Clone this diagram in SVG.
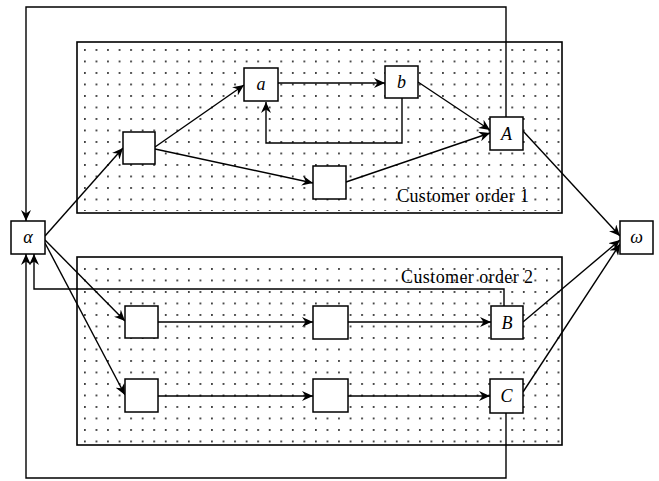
<svg xmlns="http://www.w3.org/2000/svg" width="659" height="481" viewBox="0 0 659 481">
<style>
.box{fill:#fff;stroke:#000;stroke-width:1.5}
.reg{stroke:#000;stroke-width:1.6}
.c{fill:none;stroke:#000;stroke-width:1.4}
.ca{fill:none;stroke:#000;stroke-width:1.4;marker-end:url(#ah)}
.lbl{font-family:"Liberation Serif",serif;font-style:italic;font-size:18px;text-anchor:middle}
.cap{font-family:"Liberation Serif",serif;font-size:18px}
</style>
<defs>
<marker id="ah" markerUnits="userSpaceOnUse" markerWidth="12" markerHeight="10" refX="11" refY="5" orient="auto">
<path d="M0,0 L11,5 L0,10 L3.5,5 z" fill="#000"/>
</marker>
<pattern id="dots1" patternUnits="userSpaceOnUse" x="84" y="49" width="11.55" height="11.5">
<circle cx="0.9" cy="0.9" r="0.9" fill="#000"/>
</pattern>
<pattern id="dots2" patternUnits="userSpaceOnUse" x="84" y="268" width="11.55" height="11.5">
<circle cx="0.9" cy="0.9" r="0.9" fill="#000"/>
</pattern>
</defs>
<rect width="659" height="481" fill="#fff"/>
<g id="order1">
<rect x="77" y="42" width="485" height="171" fill="#fff" class="reg"/>
<rect x="80" y="45" width="480" height="166" fill="url(#dots1)"/>
<text class="cap" x="397" y="202" textLength="132">Customer order 1</text>
</g>
<g id="order2">
<rect x="77" y="257" width="485" height="188" fill="#fff" class="reg"/>
<rect x="80" y="260" width="480" height="183" fill="url(#dots2)"/>
<text class="cap" x="401" y="283" textLength="132">Customer order 2</text>
</g>
<g id="connectors">
<line class="ca" x1="45" y1="236" x2="123" y2="148"/>
<line class="ca" x1="45" y1="240" x2="125" y2="321"/>
<line class="ca" x1="45" y1="243" x2="125" y2="395"/>
<line class="ca" x1="155" y1="147" x2="244" y2="85"/>
<line class="ca" x1="155" y1="149" x2="313" y2="183"/>
<line class="ca" x1="278" y1="83" x2="385" y2="83"/>
<polyline class="ca" points="402,98 402,143 266,143 266,102"/>
<line class="ca" x1="418" y1="82" x2="490" y2="130"/>
<line class="ca" x1="346" y1="182" x2="490" y2="133"/>
<polyline class="ca" points="506,117 506,7 26,7 26,221"/>
<line class="ca" x1="523" y1="131" x2="620" y2="236"/>
<line class="ca" x1="158" y1="322" x2="313" y2="322"/>
<line class="ca" x1="348" y1="322" x2="491" y2="322"/>
<polyline class="ca" points="504,306 504,289 34,289 34,254"/>
<line class="ca" x1="523" y1="322" x2="620" y2="240"/>
<line class="ca" x1="158" y1="396" x2="313" y2="396"/>
<line class="ca" x1="348" y1="396" x2="490" y2="396"/>
<polyline class="ca" points="506,413 506,478 26,478 26,254"/>
<line class="ca" x1="523" y1="392" x2="620" y2="244"/>
</g>
<g id="alpha"><rect class="box" x="11" y="221" width="34" height="33"/><text class="lbl" x="28" y="243">α</text></g>
<g id="omega"><rect class="box" x="620" y="221" width="33" height="33"/><text class="lbl" x="636.5" y="243">ω</text></g>
<g id="n1"><rect class="box" x="123" y="132" width="32" height="32"/></g>
<g id="na"><rect class="box" x="244" y="68" width="34" height="33"/><text class="lbl" x="261" y="90">a</text></g>
<g id="nb"><rect class="box" x="385" y="66" width="33" height="32"/><text class="lbl" x="401.5" y="88">b</text></g>
<g id="n2"><rect class="box" x="313" y="166" width="33" height="33"/></g>
<g id="nA"><rect class="box" x="490" y="117" width="33" height="33"/><text class="lbl" x="506.5" y="140">A</text></g>
<g id="nB1"><rect class="box" x="125" y="306" width="33" height="32"/></g>
<g id="nB2"><rect class="box" x="313" y="306" width="35" height="33"/></g>
<g id="nB"><rect class="box" x="491" y="306" width="32" height="33"/><text class="lbl" x="507" y="329">B</text></g>
<g id="nC1"><rect class="box" x="125" y="379" width="33" height="33"/></g>
<g id="nC2"><rect class="box" x="313" y="379" width="35" height="33"/></g>
<g id="nC"><rect class="box" x="490" y="379" width="33" height="34"/><text class="lbl" x="506.5" y="402">C</text></g>
</svg>
